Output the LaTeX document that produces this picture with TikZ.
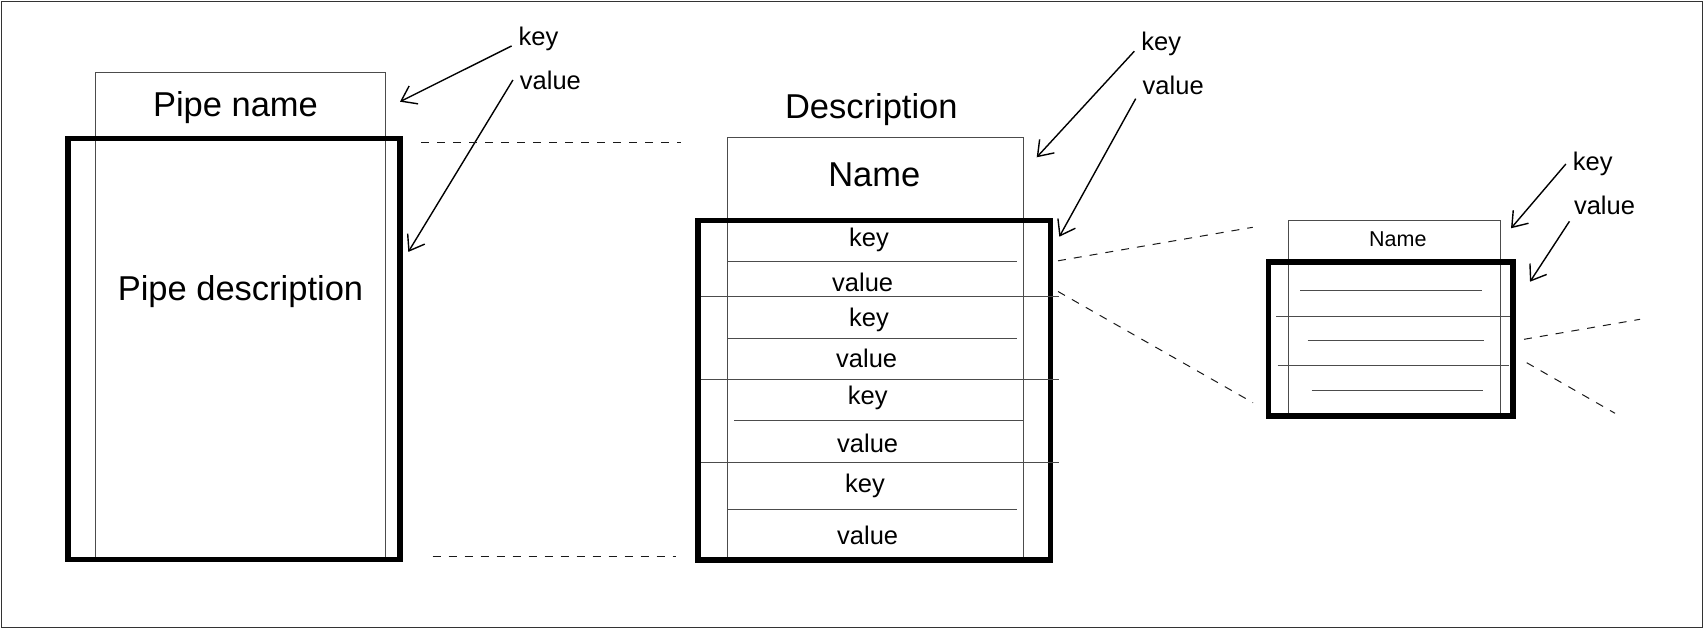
\documentclass[tikz,border=0pt]{standalone}
\usepackage{fontspec}
\setmainfont{Liberation Sans}
\usetikzlibrary{arrows.meta}

\begin{document}
\begin{tikzpicture}[
  x=1pt, y=-1pt,
  every node/.style={font=\fontsize{25.5}{30}\selectfont},
  bigtext/.style={font=\fontsize{34.5}{41}\selectfont},
  smalltext/.style={font=\fontsize{21.5}{26}\selectfont},
  thinbox/.style={draw=black!70, line width=1pt, inner sep=0pt},
  thickbox/.style={draw, line width=5.5pt, inner sep=0pt},
  lbl/.style={inner sep=2pt, outer sep=5pt},
  rowline/.style={draw=black!70, line width=1pt},
  proj/.style={draw=black!90, line width=1pt, dash pattern=on 8pt off 8pt},
  arrow/.style={-{Straight Barb[length=14pt,width=20pt]}, line width=1.4pt}
]
\useasboundingbox (0,0) rectangle (1704,629);
\draw[black!80, line width=1pt] (1.5,1.5) rectangle (1702,627);

% Pipe (left)
\node[thinbox, minimum width=289.6pt, minimum height=485.7pt] (pipehead) at (240.5,315.2) {};
\node[thickbox, minimum width=332pt, minimum height=421pt] (pipebody) at (234,349) {};
\node[bigtext] (pipename) at (235.5,107.4) {Pipe name};
\node[bigtext] (pipedesc) at (240.5,292) {Pipe description};

% Description (middle)
\node[bigtext] (desctitle) at (871.3,109.4) {Description};
\node[thinbox, minimum width=295.6pt, minimum height=422.7pt] (deschead) at (875.5,348.7) {};
\node[thickbox, minimum width=352.5pt, minimum height=339.5pt] (descbody) at (874.3,390.3) {};
\node[bigtext] (descname) at (874.3,175.2) {Name};
\foreach \y in {261.5,338.1,509.4}
  \draw[rowline] (728.3,\y) -- (1017.3,\y);
\draw[rowline] (734,420.8) -- (1023.3,420.8);
\foreach \y in {296.8,379,462.1}
  \draw[rowline] (700.7,\y) -- (1059,\y);
\foreach \i/\x/\y in {1/869/239.5, 2/869/319.7, 3/867.7/398, 4/865/486}
  \node (rowkey\i) at (\x,\y) {key};
\foreach \i/\x/\y in {1/862.7/282.8, 2/866.7/358.2, 3/867.7/443.2, 4/867.7/535.5}
  \node (rowvalue\i) at (\x,\y) {value};

% Small pipe (right)
\node[thinbox, minimum width=212.4pt, minimum height=194pt] (minihead) at (1394.5,317) {};
\node[thickbox, minimum width=244.7pt, minimum height=154.4pt] (minibody) at (1390.7,339) {};
\node[smalltext] (mininame) at (1397.8,239.6) {Name};
\foreach \y/\a/\b in {290/1300/1481.7, 340.7/1307.7/1484, 390.3/1311.7/1483.3}
  \draw[rowline] (\a,\y) -- (\b,\y);
\foreach \y/\a/\b in {316.7/1276/1510, 365.7/1277.7/1509}
  \draw[rowline] (\a,\y) -- (\b,\y);

% Labels
\node[lbl] (keyA) at (538.5,38.7) {key};
\node[lbl] (valueA) at (550.4,80) {value};
\node[lbl] (keyB) at (1161.2,44) {key};
\node[lbl] (valueB) at (1173.2,85) {value};
\node[lbl] (keyC) at (1592.7,164) {key};
\node[lbl] (valueC) at (1604.5,205) {value};

\coordinate (keyAtip) at (400,101.7);
\coordinate (valueAtip) at (408.3,251.9);
\coordinate (keyBtip) at (1036.7,157.3);
\coordinate (valueBtip) at (1059.3,236.7);
\coordinate (keyCtip) at (1511,228.3);
\coordinate (valueCtip) at (1530,281.7);

% Arrows
\draw[arrow] (keyA.195) -- (keyAtip);
\draw[arrow] (valueA.west) -- (valueAtip);
\draw[arrow] (keyB.195) -- (keyBtip);
\draw[arrow] (valueB.200) -- (valueBtip);
\draw[arrow] (keyC.west) -- (keyCtip);
\draw[arrow] (valueC.205) -- (valueCtip);

% Projection lines
\draw[proj] (421,142.7) -- (680.7,142.7);
\draw[proj] (432.7,556) -- (676,556);
\draw[proj] (1058,260.8) -- (1252.7,227.3);
\draw[proj] (1058,291.5) -- (1253,402.7);
\draw[proj] (1524,339.3) -- (1640,319.3);
\draw[proj] (1526.7,362.7) -- (1615,413.3);
\end{tikzpicture}
\end{document}
